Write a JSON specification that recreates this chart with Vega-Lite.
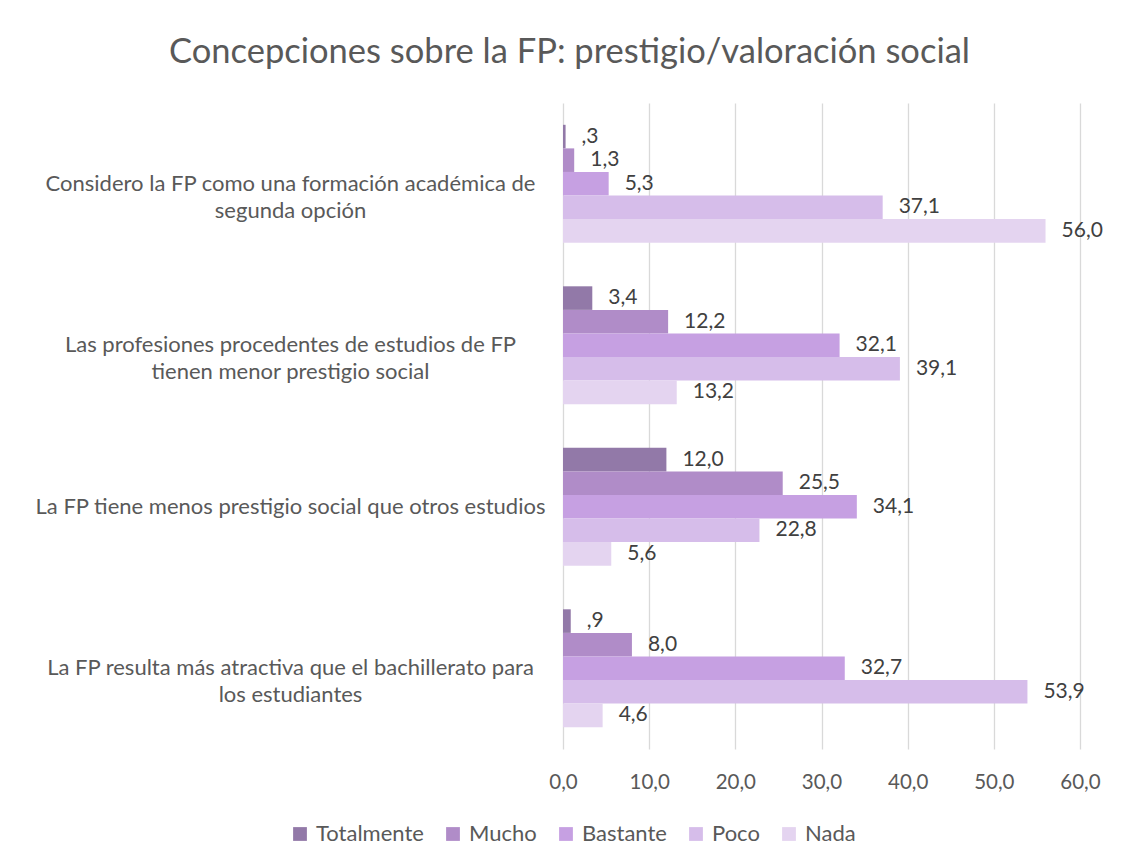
{
  "$schema": "https://vega.github.io/schema/vega-lite/v6.json",
  "width": 517,
  "height": 646,
  "autosize": "none",
  "padding": {"left": 563, "top": 103, "right": 48, "bottom": 118},
  "background": "white",
  "config": {
    "font": "Lato",
    "view": {"stroke": null},
    "locale": {"number": {"decimal": ",", "thousands": ".", "grouping": [3], "currency": ["", " €"]}}
  },
  "title": {
    "text": "Concepciones sobre la FP: prestigio/valoración social",
    "fontSize": 34.5,
    "font": "Lato",
    "fontWeight": "normal",
    "color": "#595959",
    "anchor": "middle",
    "frame": "group",
    "dx": -252,
    "offset": 33
  },
  "data": {
    "values": [
      {"item": "Considero la FP como una formación académica de segunda opción", "resp": "Totalmente", "value": 0.3},
      {"item": "Considero la FP como una formación académica de segunda opción", "resp": "Mucho", "value": 1.3},
      {"item": "Considero la FP como una formación académica de segunda opción", "resp": "Bastante", "value": 5.3},
      {"item": "Considero la FP como una formación académica de segunda opción", "resp": "Poco", "value": 37.1},
      {"item": "Considero la FP como una formación académica de segunda opción", "resp": "Nada", "value": 56.0},
      {"item": "Las profesiones procedentes de estudios de FP tienen menor prestigio social", "resp": "Totalmente", "value": 3.4},
      {"item": "Las profesiones procedentes de estudios de FP tienen menor prestigio social", "resp": "Mucho", "value": 12.2},
      {"item": "Las profesiones procedentes de estudios de FP tienen menor prestigio social", "resp": "Bastante", "value": 32.1},
      {"item": "Las profesiones procedentes de estudios de FP tienen menor prestigio social", "resp": "Poco", "value": 39.1},
      {"item": "Las profesiones procedentes de estudios de FP tienen menor prestigio social", "resp": "Nada", "value": 13.2},
      {"item": "La FP tiene menos prestigio social que otros estudios", "resp": "Totalmente", "value": 12.0},
      {"item": "La FP tiene menos prestigio social que otros estudios", "resp": "Mucho", "value": 25.5},
      {"item": "La FP tiene menos prestigio social que otros estudios", "resp": "Bastante", "value": 34.1},
      {"item": "La FP tiene menos prestigio social que otros estudios", "resp": "Poco", "value": 22.8},
      {"item": "La FP tiene menos prestigio social que otros estudios", "resp": "Nada", "value": 5.6},
      {"item": "La FP resulta más atractiva que el bachillerato para los estudiantes", "resp": "Totalmente", "value": 0.9},
      {"item": "La FP resulta más atractiva que el bachillerato para los estudiantes", "resp": "Mucho", "value": 8.0},
      {"item": "La FP resulta más atractiva que el bachillerato para los estudiantes", "resp": "Bastante", "value": 32.7},
      {"item": "La FP resulta más atractiva que el bachillerato para los estudiantes", "resp": "Poco", "value": 53.9},
      {"item": "La FP resulta más atractiva que el bachillerato para los estudiantes", "resp": "Nada", "value": 4.6}
    ]
  },
  "transform": [
    {"calculate": "replace(replace(format(datum.value, '.1f'), /\\./, ','), /^0,/, ',')", "as": "lbl"}
  ],
  "encoding": {
    "y": {
      "field": "item",
      "type": "nominal",
      "sort": null,
      "scale": {"paddingInner": 0.27, "paddingOuter": 0.135},
      "axis": {
        "title": null,
        "ticks": false,
        "domain": false,
        "labelAlign": "center",
        "labelBaseline": "middle",
        "labelPadding": 273,
        "labelFontSize": 22,
        "labelColor": "#595959",
        "labelLineHeight": 27,
        "labelLimit": 0,
        "labelExpr": "datum.label == 'Considero la FP como una formación académica de segunda opción' ? ['Considero la FP como una formación académica de', 'segunda opción'] : datum.label == 'Las profesiones procedentes de estudios de FP tienen menor prestigio social' ? ['Las profesiones procedentes de estudios de FP', 'tienen menor prestigio social'] : datum.label == 'La FP resulta más atractiva que el bachillerato para los estudiantes' ? ['La FP resulta más atractiva que el bachillerato para', 'los estudiantes'] : datum.label"
      }
    },
    "yOffset": {
      "field": "resp",
      "type": "nominal",
      "sort": ["Totalmente", "Mucho", "Bastante", "Poco", "Nada"],
      "scale": {"paddingInner": 0, "paddingOuter": 0}
    },
    "x": {
      "field": "value",
      "type": "quantitative",
      "scale": {"domain": [0, 60], "nice": false},
      "axis": {
        "title": null,
        "values": [0, 10, 20, 30, 40, 50, 60],
        "format": ".1f",
        "ticks": false,
        "domain": false,
        "grid": true,
        "gridColor": "#D9D9D9",
        "gridWidth": 1.3,
        "labelFlush": false,
        "labelFontSize": 20.5,
        "labelColor": "#595959",
        "labelPadding": 23
      }
    }
  },
  "layer": [
    {
      "mark": {"type": "bar"},
      "encoding": {
        "color": {
          "field": "resp",
          "type": "nominal",
          "sort": ["Totalmente", "Mucho", "Bastante", "Poco", "Nada"],
          "scale": {
            "domain": ["Totalmente", "Mucho", "Bastante", "Poco", "Nada"],
            "range": ["#9279A8", "#B08CC8", "#C6A0E2", "#D6BDEA", "#E4D4F0"]
          },
          "legend": {
            "title": null,
            "orient": "none",
            "direction": "horizontal",
            "legendX": -274,
            "legendY": 720,
            "padding": 0,
            "symbolType": "square",
            "symbolSize": 190,
            "symbolStrokeWidth": 0,
            "symbolOpacity": 1,
            "labelFontSize": 22,
            "labelColor": "#595959",
            "labelOffset": 5,
            "columnPadding": 18
          }
        }
      }
    },
    {
      "mark": {"type": "text", "align": "left", "baseline": "middle", "dx": 16, "fontSize": 21, "color": "#404040"},
      "encoding": {
        "text": {"field": "lbl", "type": "nominal"}
      }
    }
  ]
}
